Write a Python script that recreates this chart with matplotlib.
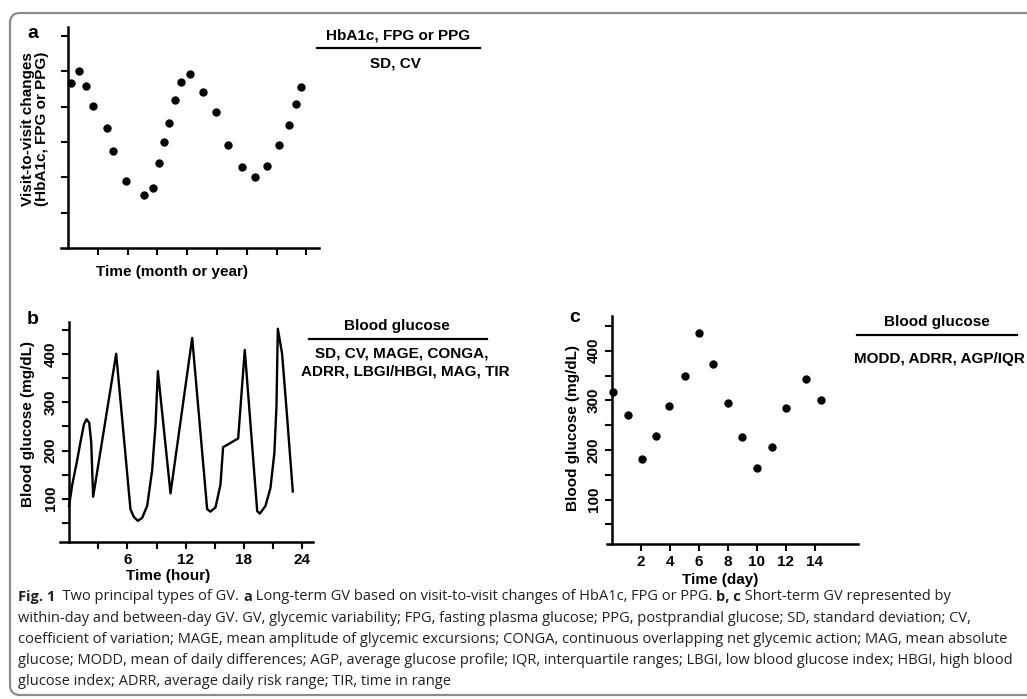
import matplotlib
matplotlib.use('Agg')
import matplotlib.pyplot as plt
from matplotlib.lines import Line2D
from matplotlib.patches import FancyBboxPatch
from matplotlib.transforms import IdentityTransform

# panel a: visit-to-visit changes (arbitrary units)
a_time = [0.10, 0.38, 0.62, 0.83, 1.32, 1.52, 1.96, 2.56, 2.87, 3.06, 3.23, 3.38, 3.59,
          3.79, 4.08, 4.53, 4.98, 5.36, 5.83, 6.28, 6.67, 7.09, 7.41, 7.64, 7.83]
a_value = [4.68, 5.00, 4.58, 4.03, 3.40, 2.76, 1.91, 1.50, 1.71, 2.40, 3.00, 3.53, 4.20,
           4.71, 4.94, 4.43, 3.84, 2.93, 2.30, 2.02, 2.33, 2.91, 3.48, 4.07, 4.55]
a_xticks = [1, 2, 3, 4, 5, 6, 7, 8]
a_yticks = [1, 2, 3, 4, 5, 6]

# panel b: within-day glucose trace
b_hour = [0.0, 0.33, 0.77, 1.18, 1.53, 1.80, 2.07, 2.28, 2.48, 4.85, 6.32, 6.67, 7.08,
          7.52, 8.04, 8.55, 8.90, 9.14, 10.44, 12.67, 14.21, 14.55, 15.07, 15.58, 15.85,
          17.40, 18.08, 19.36, 19.63, 20.21, 20.72, 21.13, 21.34, 21.48, 21.92, 22.44, 23.02]
b_glucose = [85, 129, 173, 218, 254, 265, 258, 218, 104, 401, 78, 62, 54,
             60, 85, 159, 254, 365, 111, 434, 78, 73, 82, 129, 207,
             225, 409, 74, 69, 85, 122, 196, 291, 453, 401, 269, 115]
b_xticks = [3, 6, 9, 12, 15, 18, 21, 24]
b_xlabels = ['', '6', '', '12', '', '18', '', '24']
gl_yticks = [50, 100, 150, 200, 250, 300, 350, 400, 450]
gl_ylabels = ['', '100', '', '200', '', '300', '', '400', '']

# panel c: between-day glucose
c_day = [0.05, 1.08, 2.05, 3.04, 3.96, 5.02, 5.99, 6.98, 8.0, 8.99, 10.0, 11.04, 12.03, 13.43, 14.45]
c_glucose = [316, 270, 181, 229, 289, 349, 436, 374, 295, 227, 164, 207, 284, 344, 301]
c_xticks = [2, 4, 6, 8, 10, 12, 14]

caption_lines = [
    [("Fig. 1", True), ("  Two principal types of GV. ", False), ("a", True),
     (" Long-term GV based on visit-to-visit changes of HbA1c, FPG or PPG. ", False),
     ("b, c", True), (" Short-term GV represented by", False)],
    [("within-day and between-day GV. GV, glycemic variability; FPG, fasting plasma glucose; "
      "PPG, postprandial glucose; SD, standard deviation; CV,", False)],
    [("coefficient of variation; MAGE, mean amplitude of glycemic excursions; CONGA, "
      "continuous overlapping net glycemic action; MAG, mean absolute", False)],
    [("glucose; MODD, mean of daily differences; AGP, average glucose profile; IQR, "
      "interquartile ranges; LBGI, low blood glucose index; HBGI, high blood", False)],
    [("glucose index; ADRR, average daily risk range; TIR, time in range", False)],
]

W, H = 1027, 699
plt.rcParams['font.family'] = ['Liberation Sans', 'DejaVu Sans']
plt.rcParams['font.weight'] = 'bold'

fig = plt.figure(figsize=(W / 100, H / 100), dpi=100)


def fx(px):
    return px / W


def fy(py):
    return 1 - py / H


def panel(left, top, right, bottom):
    ax = fig.add_axes([fx(left), fy(bottom), (right - left) / W, (bottom - top) / H])
    for s in ['top', 'right']:
        ax.spines[s].set_visible(False)
    for s in ['left', 'bottom']:
        ax.spines[s].set_linewidth(1.8)
    ax.spines['left'].set_position(('data', 0))
    ax.tick_params(direction='out', length=5, width=1.5, labelsize=11, pad=3)
    ax.set_facecolor('none')
    return ax


def header(x, y_top, y_line, x0, x1, title, body, body_y):
    fig.text(fx(x), fy(y_top), title, ha='center', va='center', fontsize=11)
    fig.add_artist(Line2D([fx(x0), fx(x1)], [fy(y_line), fy(y_line)], color='black', lw=1.6))
    for (bx, by), line in zip(body_y, body):
        fig.text(fx(bx), fy(by), line, ha='center', va='center', fontsize=11)


# a
ax = panel(61, 27, 319, 248)
ax.plot(a_time, a_value, 'o', color='black', ms=5)
ax.set_xlim(-0.23, 8.42)
ax.set_ylim(0, 6.26)
ax.set_xticks(a_xticks)
ax.set_xticklabels([])
ax.set_yticks(a_yticks)
ax.set_yticklabels([])
fig.text(fx(33), fy(33), 'a', fontsize=14, ha='center', va='center')
fig.text(fx(35), fy(129), 'Visit-to-visit changes\n(HbA1c, FPG or PPG)', rotation=90,
         ha='center', va='center', fontsize=11, linespacing=1.05)
fig.text(fx(172), fy(272), 'Time (month or year)', ha='center', va='center', fontsize=11)
header(398, 35, 47.7, 317, 480, 'HbA1c, FPG or PPG', ['SD, CV'], [(395, 63)])

# b
ax = panel(60, 322, 313, 542)
ax.plot(b_hour, b_glucose, color='black', lw=1.7)
ax.set_xlim(-0.93, 25.1)
ax.set_ylim(10, 467)
ax.set_xticks(b_xticks)
ax.set_xticklabels(b_xlabels)
ax.set_yticks(gl_yticks)
ax.set_yticklabels(gl_ylabels, rotation=90, va='center')
fig.text(fx(33), fy(320), 'b', fontsize=14, ha='center', va='center')
fig.text(fx(28), fy(424), 'Blood glucose (mg/dL)', rotation=90, ha='center', va='center', fontsize=11)
fig.text(fx(168), fy(576), 'Time (hour)', ha='center', va='center', fontsize=11)
header(397, 326, 339, 309, 487, 'Blood glucose',
       ['SD, CV, MAGE, CONGA,', 'ADRR, LBGI/HBGI, MAG, TIR'], [(402, 354), (405, 372)])

# c
ax = panel(607, 316, 858, 544)
ax.plot(c_day, c_glucose, 'o', color='black', ms=5)
ax.set_xlim(-0.35, 17.0)
ax.set_ylim(10.7, 470)
ax.set_xticks(c_xticks)
ax.set_yticks(gl_yticks)
ax.set_yticklabels(gl_ylabels, rotation=90, va='center')
fig.text(fx(575), fy(317), 'c', fontsize=14, ha='center', va='center')
fig.text(fx(573), fy(428), 'Blood glucose (mg/dL)', rotation=90, ha='center', va='center', fontsize=11)
fig.text(fx(720), fy(580), 'Time (day)', ha='center', va='center', fontsize=11)
header(937, 322, 335, 857, 1017, 'Blood glucose', ['MODD, ADRR, AGP/IQR'], [(939, 359)])

# caption, bold pieces placed one after another
renderer = fig.canvas.get_renderer()
for i, pieces in enumerate(caption_lines):
    x = fx(18)
    y = fy(597 + i * 21.2)
    for s, bold in pieces:
        t = fig.text(x, y, s, fontsize=10.5, color='#231f20', va='center',
                     family=['Open Sans', 'DejaVu Sans'],
                     fontweight='bold' if bold else 'normal')
        x += t.get_window_extent(renderer=renderer).width / W

# outer frame
frame = FancyBboxPatch((10, H - 695), W + 30, 682, boxstyle='round,pad=0,rounding_size=10',
                       transform=IdentityTransform(), fill=False, edgecolor='#8c8c8c', lw=1.6)
fig.add_artist(frame)

fig.savefig('out.png', dpi=100)
